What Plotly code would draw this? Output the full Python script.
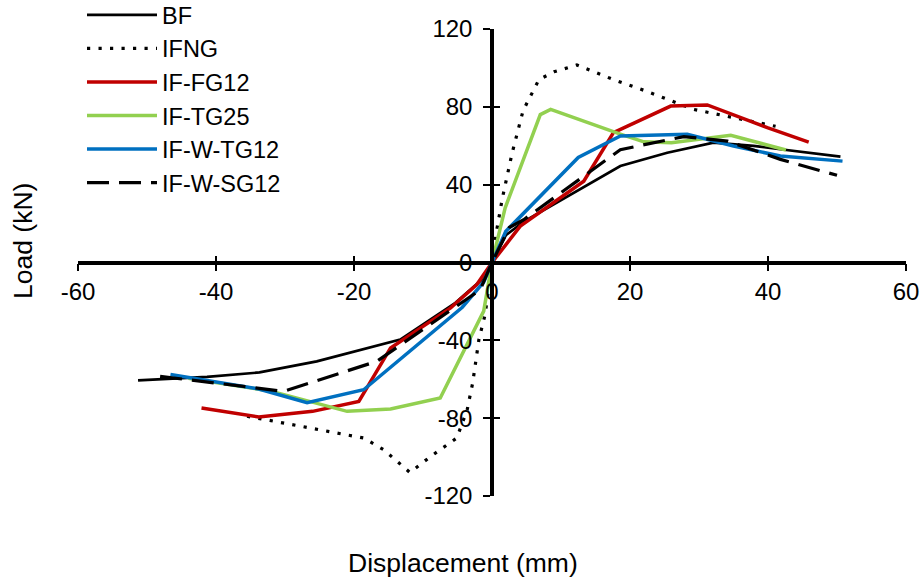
import plotly.graph_objects as go

# ---- data (displacement mm, load kN) ----
bf_x = [-51.3, -46.0, -41.3, -33.7, -25.4, -13.3, -5.3, -1.2, 0, 2.0, 4.6, 18.6, 25.4, 32.1, 37.9, 50.5]
bf_y = [-60.6, -59.8, -58.8, -56.5, -50.8, -39.6, -20.7, -8.0, 0, 14.0, 21.0, 49.6, 56.4, 61.6, 59.9, 54.4]

ifng_x = [-35.5, -25.4, -18.6, -15.7, -11.9, -8.9, -5.1, -3.6, -2.8, -1.9, -1.0, 0, 0.7, 1.5, 2.9, 4.5, 6.8, 9.0, 12.3, 17.6, 22.4, 29.2, 35.0, 41.1]
ifng_y = [-79.0, -85.5, -90.2, -96.2, -107.9, -99.7, -90.2, -75.7, -61.9, -39.6, -26.8, 0, 17.0, 33.0, 56.0, 78.0, 94.0, 98.0, 101.5, 94.0, 88.0, 78.7, 74.6, 70.0]

fg12_x = [-42.1, -33.8, -26.0, -19.3, -14.7, -6.0, -2.2, 0, 4.1, 13.3, 17.6, 25.9, 31.2, 39.9, 45.9]
fg12_y = [-74.8, -79.4, -76.5, -71.4, -43.9, -23.3, -11.3, 0, 18.7, 41.8, 66.7, 80.4, 81.0, 69.3, 61.9]

tg25_x = [-44.0, -32.2, -21.0, -14.7, -7.5, -1.2, 0, 1.9, 7.0, 8.5, 18.6, 22.0, 26.0, 34.6, 42.6]
tg25_y = [-59.5, -66.0, -76.5, -75.3, -69.6, -25.0, 0, 28.0, 76.0, 78.7, 66.0, 62.0, 61.5, 65.4, 57.8]

wtg12_x = [-46.6, -33.8, -26.8, -18.6, -4.3, -1.2, 0, 2.0, 12.5, 18.6, 28.3, 35.0, 41.8, 50.8]
wtg12_y = [-57.6, -65.0, -72.0, -65.4, -23.0, -10.0, 0, 16.0, 54.0, 65.0, 65.9, 59.9, 54.7, 52.1]

wsg12_x = [-48.1, -30.2, -16.7, -4.8, -1.7, 0, 2.5, 4.6, 18.6, 27.8, 34.1, 41.8, 50.0]
wsg12_y = [-58.5, -66.2, -50.8, -21.6, -14.0, 0, 18.0, 22.0, 58.0, 64.7, 62.4, 53.0, 44.8]

x_ticks = [-60, -40, -20, 0, 20, 40, 60]
y_ticks = [-120, -80, -40, 0, 40, 80, 120]
x_labels = [str(v) for v in x_ticks]
y_labels = [str(v) for v in y_ticks]

FONT = "Liberation Sans, Arial, sans-serif"

series = [
    ("BF", bf_x, bf_y, "#000000", 2.7, "solid"),
    ("IFNG", ifng_x, ifng_y, "#000000", 3.2, "3.2px,8.3px"),
    ("IF-FG12", fg12_x, fg12_y, "#C00000", 3.5, "solid"),
    ("IF-TG25", tg25_x, tg25_y, "#92D050", 3.5, "solid"),
    ("IF-W-TG12", wtg12_x, wtg12_y, "#0070C0", 3.5, "solid"),
    ("IF-W-SG12", wsg12_x, wsg12_y, "#000000", 3.2, "22px,10px"),
]

fig = go.Figure()
for name, xs, ys, col, w, dash in series:
    fig.add_trace(go.Scatter(x=xs, y=ys, mode="lines", name=name,
                             line=dict(color=col, width=w, dash=dash)))

# invisible trace on overlay axes to draw the inner half of crossing ticks
fig.add_trace(go.Scatter(x=[0], y=[0], xaxis="x2", yaxis="y2", mode="markers",
                         marker=dict(opacity=0), showlegend=False, hoverinfo="skip"))

axis_common = dict(showgrid=False, zeroline=False, showline=True, linecolor="black",
                   linewidth=3.5, ticks="outside", ticklen=7, tickwidth=2, tickcolor="black",
                   tickfont=dict(family=FONT, size=24, color="black"))

W, H = 922, 581
L, T, PW, PH = 78, 29, 828, 467

fig.update_layout(
    width=W, height=H,
    margin=dict(l=L, r=W - L - PW, t=T, b=H - T - PH, autoexpand=False),
    plot_bgcolor="white", paper_bgcolor="white",
    xaxis=dict(range=[-60, 60], tickvals=x_ticks, ticktext=x_labels, anchor="free", position=0.5,
               ticklabelstandoff=0, **axis_common),
    yaxis=dict(range=[-120, 120], tickvals=y_ticks, ticktext=y_labels, anchor="free", position=0.5,
               ticklabelstandoff=6, **axis_common),
    xaxis2=dict(range=[-60, 60], tickvals=x_ticks, overlaying="x", anchor="free", position=0.5,
                showgrid=False, zeroline=False, showline=False, ticks="inside", ticklen=7,
                tickwidth=2, tickcolor="black", showticklabels=False),
    yaxis2=dict(range=[-120, 120], tickvals=y_ticks, overlaying="y", anchor="free", position=0.5,
                showgrid=False, zeroline=False, showline=False, ticks="inside", ticklen=7,
                tickwidth=2, tickcolor="black", showticklabels=False),
    legend=dict(xref="container", yref="container", x=82 / W, y=1 - 99 / H,
                xanchor="left", yanchor="middle",
                font=dict(family=FONT, size=23.5, color="black"), itemwidth=70,
                bgcolor="rgba(0,0,0,0)", tracegroupgap=0),
    showlegend=True,
    annotations=[
        dict(text="Displacement (mm)", xref="paper", yref="paper", x=(463 - L) / PW,
             y=-(563 - (T + PH)) / PH, showarrow=False, xanchor="center", yanchor="middle",
             font=dict(family=FONT, size=26.5, color="black")),
        dict(text="Load (kN)", xref="paper", yref="paper", x=-(L - 23) / PW,
             y=((T + PH) - 241) / PH, showarrow=False, xanchor="center", yanchor="middle",
             textangle=-90, font=dict(family=FONT, size=26.5, color="black")),
    ],
)

fig.write_html("out.html", config={"displayModeBar": False},
               post_script="document.body.style.margin='0px';document.body.style.overflow='hidden';")
